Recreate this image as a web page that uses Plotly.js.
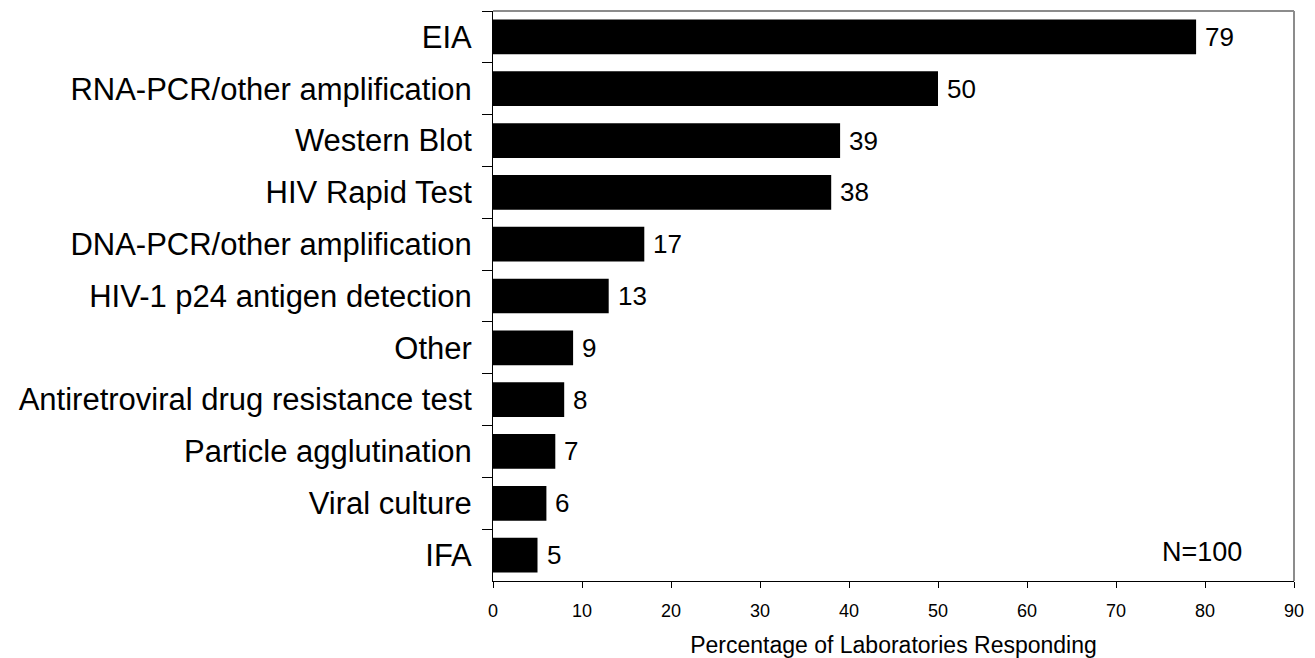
<!DOCTYPE html>
<html>
<head>
<meta charset="utf-8">
<script src="https://cdn.plot.ly/plotly-3.0.1.min.js"></script>
<style>html,body{margin:0;padding:0;background:#fff;}#chart{width:1315px;height:658px;}</style>
</head>
<body>
<div id="chart"></div>
<script>
const categories = [
  "EIA",
  "RNA-PCR/other amplification",
  "Western Blot",
  "HIV Rapid Test",
  "DNA-PCR/other amplification",
  "HIV-1 p24 antigen detection",
  "Other",
  "Antiretroviral drug resistance test",
  "Particle agglutination",
  "Viral culture",
  "IFA"
];
const values = [79, 50, 39, 38, 17, 13, 9, 8, 7, 6, 5];
const xTickValues = [0, 10, 20, 30, 40, 50, 60, 70, 80, 90];
const xTitle = "Percentage of Laboratories Responding";
const noteText = "N=100";

const FONT = "Liberation Sans, Arial, sans-serif";

const trace = {
  type: "bar",
  orientation: "h",
  x: values,
  y: categories,
  marker: {color: "#000000", line: {width: 0}},
  hoverinfo: "none"
};

const valueAnnotations = categories.map((c, i) => ({
  x: values[i], y: c, xref: "x", yref: "y",
  text: String(values[i]), showarrow: false,
  xanchor: "left", yanchor: "middle", xshift: 7,
  font: {family: FONT, size: 26, color: "#000"}
}));

const layout = {
  width: 1315, height: 658,
  margin: {l: 493, r: 21, t: 11, b: 77},
  paper_bgcolor: "#ffffff",
  plot_bgcolor: "#ffffff",
  showlegend: false,
  bargap: 0.33,
  font: {family: FONT, color: "#000"},
  xaxis: {
    range: [0, 90],
    tickvals: xTickValues,
    ticktext: xTickValues.map(String),
    showgrid: false, zeroline: false,
    showline: true, linecolor: "#000", linewidth: 1,
    ticks: "outside", ticklen: 6, tickcolor: "#000", tickwidth: 1,
    ticklabelstandoff: 7,
    tickfont: {family: FONT, size: 18, color: "#000"},
    title: {text: xTitle, font: {family: FONT, size: 23, color: "#000"}, standoff: 20},
    fixedrange: true
  },
  yaxis: {
    type: "category",
    autorange: "reversed",
    showgrid: false, zeroline: false,
    showline: true, linecolor: "#000", linewidth: 1,
    ticks: "outside", ticklen: 10, tickcolor: "#000", tickwidth: 1,
    tickson: "boundaries",
    ticklabelstandoff: 14,
    tickfont: {family: FONT, size: 31, color: "#000"},
    fixedrange: true
  },
  shapes: [
    {type: "line", xref: "paper", yref: "paper", x0: 0, x1: 1, y0: 1, y1: 1, line: {color: "#8c8c8c", width: 2}},
    {type: "line", xref: "paper", yref: "paper", x0: 1, x1: 1, y0: 0, y1: 1, line: {color: "#8c8c8c", width: 2}}
  ],
  annotations: valueAnnotations.concat([
    {x: 0.885, y: 0.051, xref: "paper", yref: "paper", text: noteText, showarrow: false,
     xanchor: "center", yanchor: "middle", font: {family: FONT, size: 27, color: "#000"}}
  ])
};

Plotly.newPlot("chart", [trace], layout, {displayModeBar: false, staticPlot: true});
</script>
</body>
</html>
